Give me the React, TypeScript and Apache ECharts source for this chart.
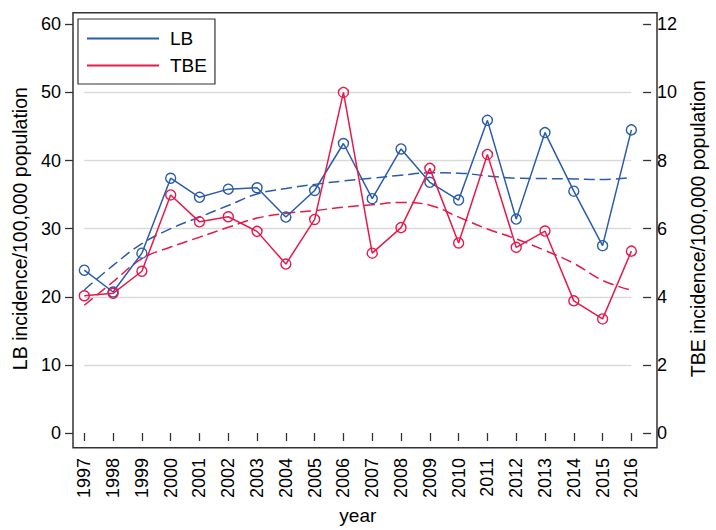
import React, { useEffect, useRef } from "react";
import * as echarts from "echarts";

const years = [
  "1997", "1998", "1999", "2000", "2001", "2002", "2003", "2004", "2005", "2006",
  "2007", "2008", "2009", "2010", "2011", "2012", "2013", "2014", "2015", "2016",
];
const lbValues = [
  23.9, 20.7, 26.4, 37.4, 34.6, 35.8, 36.0, 31.7, 35.6, 42.5,
  34.4, 41.7, 36.8, 34.2, 45.9, 31.4, 44.1, 35.5, 27.5, 44.5,
];
const tbeValues = [
  4.03, 4.1, 4.75, 6.99, 6.2, 6.35, 5.92, 4.96, 6.27, 10.0,
  5.28, 6.03, 7.77, 5.58, 8.18, 5.45, 5.93, 3.88, 3.35, 5.34,
];
const lbTrend = [
  21.0, 24.6, 27.8, 30.0, 31.7, 33.4, 35.1, 35.9, 36.5, 37.0,
  37.4, 37.85, 38.2, 38.15, 37.75, 37.4, 37.35, 37.3, 37.2, 37.5,
];
const tbeTrend = [
  3.75, 4.44, 5.12, 5.46, 5.75, 6.04, 6.31, 6.45, 6.53, 6.63,
  6.7, 6.77, 6.69, 6.34, 5.99, 5.7, 5.36, 4.98, 4.48, 4.19,
];

const BLUE = "#2a5caa";
const RED = "#e6194b";
const FONT = "'Liberation Sans', Arial, sans-serif";
const AXIS_DARK = "#333333";

export default function App() {
  const ref = useRef<HTMLDivElement>(null);

  useEffect(() => {
    if (!ref.current) return;
    const chart = echarts.init(ref.current, undefined, { renderer: "svg" });
    const tick = { show: true, length: 8, inside: false, lineStyle: { color: AXIS_DARK, width: 1.3 } };
    const option: any = {
      animation: false,
      backgroundColor: "#ffffff",
      textStyle: { fontFamily: FONT },
      grid: { left: 84.3, right: 70.7, top: 24.3, bottom: 94.7, containLabel: false },
      legend: {
        orient: "vertical",
        left: 78,
        top: 19,
        padding: [10, 8, 9, 9],
        itemGap: 8,
        itemWidth: 72,
        itemHeight: 2,
        icon: "rect",
        borderColor: AXIS_DARK,
        borderWidth: 1.2,
        backgroundColor: "#ffffff",
        textStyle: { fontSize: 19, color: "#000", fontFamily: FONT, padding: [0, 0, 0, 6] },
        data: [
          { name: "LB", itemStyle: { color: BLUE, borderWidth: 0 } },
          { name: "TBE", itemStyle: { color: RED, borderWidth: 0 } },
        ],
      },
      xAxis: {
        type: "category",
        data: years,
        boundaryGap: false,
        offset: 12,
        axisLine: { show: false },
        axisTick: { ...tick, alignWithLabel: true },
        axisLabel: { rotate: 90, fontSize: 18, color: "#000", margin: 13, fontFamily: FONT, interval: 0 },
        splitLine: { show: false },
        name: "year",
        nameLocation: "middle",
        nameGap: 61,
        nameTextStyle: { fontSize: 19, color: "#000", fontFamily: FONT },
      },
      yAxis: [
        {
          type: "value",
          position: "left",
          min: 0,
          max: 60,
          interval: 10,
          offset: 11.3,
          axisLine: { show: false },
          axisTick: tick,
          axisLabel: { fontSize: 18, color: "#000", margin: 12, fontFamily: FONT },
          splitLine: { show: true, showMinLine: false, showMaxLine: false, lineStyle: { color: "#d9d9d9", width: 1.3 } },
          name: "LB incidence/100,000 population",
          nameLocation: "middle",
          nameRotate: 90,
          nameGap: 42,
          nameTextStyle: { fontSize: 19.5, color: "#000", fontFamily: FONT },
        },
        {
          type: "value",
          position: "right",
          min: 0,
          max: 12,
          interval: 2,
          offset: 11.7,
          axisLine: { show: false },
          axisTick: tick,
          axisLabel: { fontSize: 18, color: "#000", margin: 14, fontFamily: FONT },
          splitLine: { show: false },
          name: "TBE incidence/100,000 population",
          nameLocation: "middle",
          nameRotate: 90,
          nameGap: 37,
          nameTextStyle: { fontSize: 19.5, color: "#000", fontFamily: FONT },
        },
      ],
      graphic: [
        {
          type: "rect",
          silent: true,
          z: 10,
          shape: { x: 73, y: 12.7, width: 584, height: 435 },
          style: { fill: "none", stroke: AXIS_DARK, lineWidth: 1.5 },
        },
      ],
      series: [
        {
          name: "LB trend",
          type: "line",
          yAxisIndex: 0,
          data: lbTrend,
          smooth: 0.4,
          showSymbol: false,
          symbol: "none",
          lineStyle: { color: BLUE, width: 1.5, type: [11, 5] },
          itemStyle: { color: BLUE },
          z: 2,
        },
        {
          name: "TBE trend",
          type: "line",
          yAxisIndex: 1,
          data: tbeTrend,
          smooth: 0.4,
          showSymbol: false,
          symbol: "none",
          lineStyle: { color: RED, width: 1.5, type: [11, 5] },
          itemStyle: { color: RED },
          z: 2,
        },
        {
          name: "LB",
          type: "line",
          yAxisIndex: 0,
          data: lbValues,
          symbol: "circle",
          symbolSize: 10,
          lineStyle: { color: BLUE, width: 1.5 },
          itemStyle: { color: "rgba(255,255,255,0)", borderColor: BLUE, borderWidth: 1.4 },
          z: 3,
        },
        {
          name: "TBE",
          type: "line",
          yAxisIndex: 1,
          data: tbeValues,
          symbol: "circle",
          symbolSize: 10,
          lineStyle: { color: RED, width: 1.5 },
          itemStyle: { color: "rgba(255,255,255,0)", borderColor: RED, borderWidth: 1.4 },
          z: 4,
        },
      ],
    };
    chart.setOption(option);
    return () => chart.dispose();
  }, []);

  return (
    <div
      ref={ref}
      style={{ position: "fixed", left: 0, top: 0, width: 716, height: 530, background: "#fff" }}
    />
  );
}
